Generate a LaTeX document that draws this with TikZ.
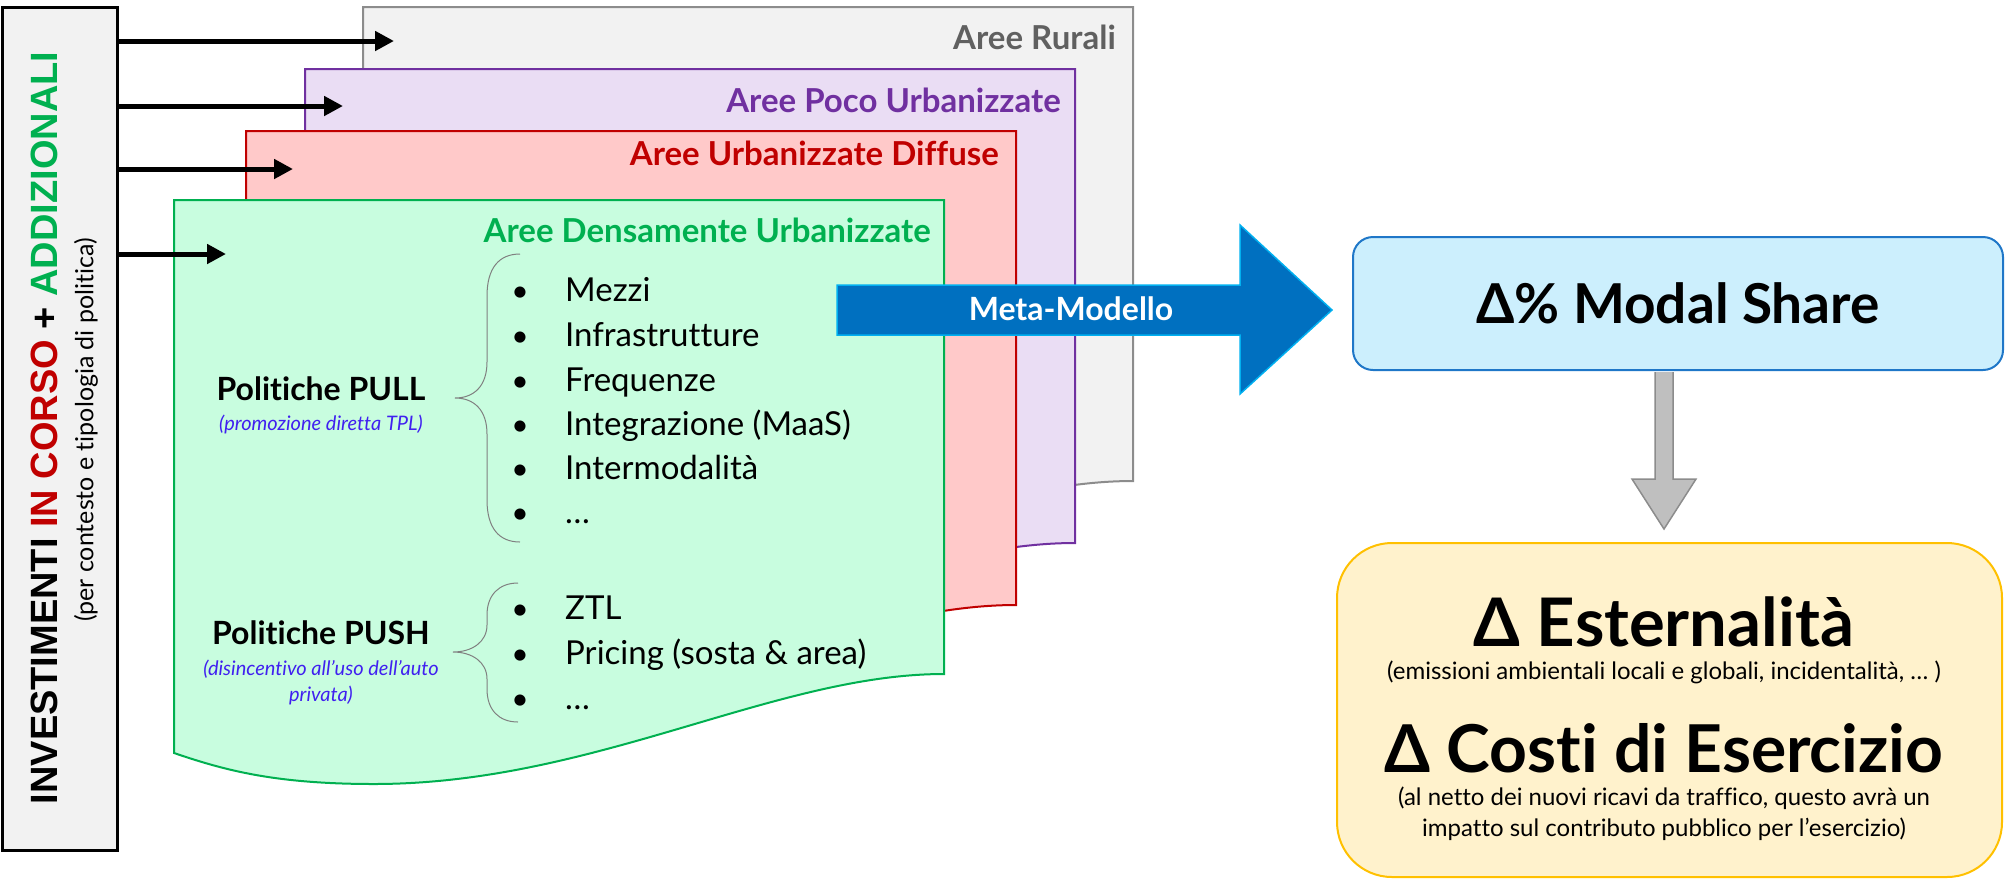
\documentclass[tikz,border=0pt]{standalone}
\usepackage{fontspec}
\setmainfont{Lato}[Ligatures=NoCommon]
\newfontfamily\arialfont{Liberation Sans}
\usepackage{tikz}
\usetikzlibrary{arrows.meta,calc}
\definecolor{boxgray}{HTML}{F2F2F2}
\definecolor{rurline}{HTML}{8C8C8C}
\definecolor{rurtext}{HTML}{606060}
\definecolor{pocofill}{HTML}{EADDF4}
\definecolor{pocoline}{HTML}{7030A0}
\definecolor{difffill}{HTML}{FFC9C9}
\definecolor{diffline}{HTML}{C00000}
\definecolor{densfill}{HTML}{C8FDDF}
\definecolor{densline}{HTML}{00B050}
\definecolor{metafill}{HTML}{0070C0}
\definecolor{metaline}{HTML}{00B0F0}
\definecolor{modfill}{HTML}{CCEFFD}
\definecolor{modline}{HTML}{1F77C8}
\definecolor{extfill}{HTML}{FFF2CC}
\definecolor{extline}{HTML}{FFC000}
\definecolor{downfill}{HTML}{BFBFBF}
\definecolor{notecol}{HTML}{4020F0}
\newcommand{\pxfont}[1]{\fontsize{#1}{#1}\selectfont}
\tikzset{
  feed/.style={line width=5pt,-{Triangle[length=19pt,width=19pt]}},
  page/.style={line width=2pt},
  pagelabel/.style={anchor=east,font=\pxfont{33}\bfseries},
  item/.style={anchor=base west,font=\pxfont{33}},
  dot/.style={anchor=base,font=\pxfont{30}},
  policy/.style={font=\pxfont{32}\bfseries},
  note/.style={font=\fontsize{20}{26}\selectfont\itshape,text=notecol,align=center},
  curly/.style={draw=gray,line width=1pt},
  metaarrow/.style={fill=metafill,draw=metaline,line width=1.5pt},
  downarrow/.style={fill=downfill,draw=rurline,line width=1.5pt}}

\begin{document}
\begin{tikzpicture}[x=1pt,y=-1pt]
\tikzstyle{every node}+=[inner sep=0pt]
\useasboundingbox (0,0) rectangle (2012,879);
\foreach \px/\py/\pf/\pl in {363/7/boxgray/rurline,305/69/pocofill/pocoline,246/131/difffill/diffline,174/200/densfill/densline}
  \draw[page,fill=\pf,draw=\pl,shift={(\px,\py)}] (0,0) -- (770,0) -- (770,474) .. controls (600,474) and (420,584) .. (200,584) .. controls (100,584) and (50,570) .. (0,553) -- cycle;
\node[pagelabel,text=rurtext] (rurali) at (1116,37) {Aree Rurali};
\node[pagelabel,text=pocoline] (poco) at (1061,100) {Aree Poco Urbanizzate};
\node[pagelabel,text=diffline] (diffuse) at (999,153) {Aree Urbanizzate Diffuse};
\node[pagelabel,text=densline] (densa) at (931,230) {Aree Densamente Urbanizzate};

\node[draw,line width=3pt,fill=boxgray,minimum width=115,minimum height=843] (invest) at (59.5,429) {};
\node[rotate=90,font=\arialfont\pxfont{38}\bfseries] (investtxt) at (44,428) {INVESTIMENTI \textcolor{diffline}{IN CORSO} + \textcolor{densline}{ADDIZIONALI}};
\node[rotate=90,font=\pxfont{25}] (investsub) at (86,430) {(per contesto e tipologia di politica)};
\coordinate (tiprur) at (394,41);
\coordinate (tippoco) at (343,106);
\coordinate (tipdiff) at (293,169);
\coordinate (tipdens) at (226,254);
\foreach \t in {tiprur,tippoco,tipdiff,tipdens}
  \draw[feed] (invest.east |- \t) -- (\t);

\draw[curly] (520,254) .. controls (499,254) and (487,268) .. (487,296) -- (487,362) .. controls (487,386) and (474,398) .. (455,398) .. controls (474,398) and (487,410) .. (487,434) -- (487,500) .. controls (487,528) and (499,542) .. (520,542);
\draw[curly] (518,583) .. controls (499,583) and (487,595) .. (487,615) -- (487,625) .. controls (487,642) and (472,652) .. (453,652) .. controls (472,652) and (487,662) .. (487,679) -- (487,689) .. controls (487,710) and (499,722) .. (518,722);
\node[policy] (pull) at (321,389) {Politiche PULL};
\node[note] (pullnote) at (321,424) {(promozione diretta TPL)};
\node[policy] (push) at (321,633) {Politiche PUSH};
\node[note] (pushnote) at (321,682) {(disincentivo all’uso dell’auto\\privata)};
\foreach \y/\t in {301/Mezzi,346/Infrastrutture,391/Frequenze,435/Integrazione (MaaS),479/Intermodalità,523/…} {
  \node[dot] (pulldot\y) at (520,\y) {\textbullet};
  \node[item] (pullitem\y) at (565,\y) {\t};
}
\foreach \y/\t in {619/ZTL,664/Pricing (sosta \& area),709/…} {
  \node[dot] (pushdot\y) at (520,\y) {\textbullet};
  \node[item] (pushitem\y) at (565,\y) {\t};
}

\draw[metaarrow] (837,285) -- (1240,285) -- (1240,225) -- (1332,310) -- (1240,394) -- (1240,335) -- (837,335) -- cycle;
\node[font=\pxfont{32}\bfseries,text=white] (meta) at (1071,309) {Meta-Modello};

\node[draw=modline,fill=modfill,line width=2pt,rounded corners=20pt,minimum width=650,minimum height=133,font=\pxfont{55}\bfseries] (modal) at (1678,303.5) {Δ\% Modal Share};
\node[draw=extline,fill=extfill,line width=2pt,rounded corners=55pt,minimum width=665,minimum height=334] (ext) at (1669.5,710) {};
\coordinate (downtip) at (1664,528);
\draw[downarrow,shift={(downtip |- modal.south)}] (-9,1) -- (-9,108) -- (-32,108) -- (0,158) -- (32,108) -- (9,108) -- (9,1);

\node[font=\pxfont{67}\bfseries] (esterna) at (1664,622) {Δ Esternalità};
\node[font=\pxfont{24}] (esternanote) at (1664,672) {(emissioni ambientali locali e globali, incidentalità, … )};
\node[font=\pxfont{66}\bfseries] (costi) at (1664,748) {Δ Costi di Esercizio};
\node[font=\fontsize{24}{31}\selectfont,align=center] (costinote) at (1664,814) {(al netto dei nuovi ricavi da traffico, questo avrà un\\impatto sul contributo pubblico per l’esercizio)};
\end{tikzpicture}
\end{document}
